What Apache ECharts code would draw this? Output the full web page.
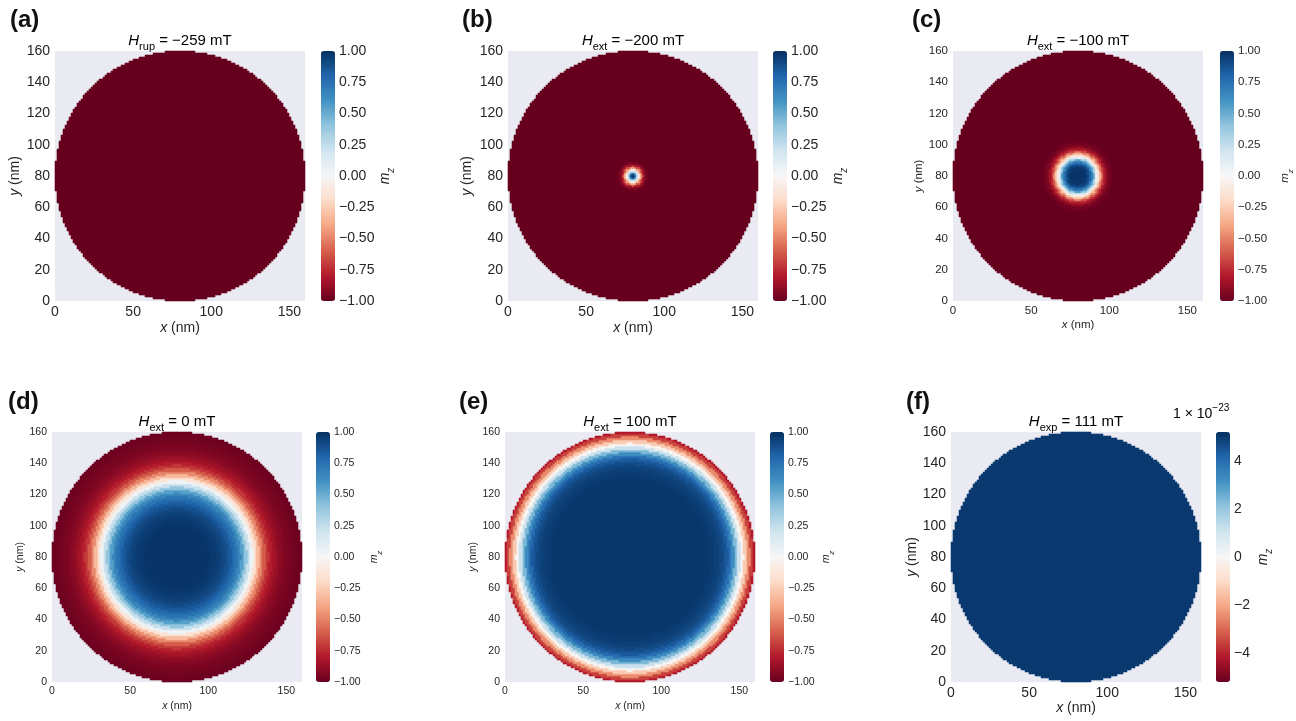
<!DOCTYPE html>
<html>
<head>
<meta charset="utf-8">
<script src="https://cdn.jsdelivr.net/npm/echarts@6/dist/echarts.min.js"></script>
<style>
  html, body { margin: 0; background: #fff; }
  #chart { width: 1296px; height: 721px; }
</style>
</head>
<body>
<div id="chart"></div>
<script>
// disk of the simulation, in nm
const boxSize = 160;
const diskCenter = [80, 80];
const diskRadius = 80;
const cellCount = 125;           // cells per side (1.28 nm each)

// radial mz profiles (index * step = r in nm)
const levelA = -1;
const stepB = 1;
const profileB = [0.97, 0.9, 0.65, 0.3, -0.05, -0.4, -0.65, -0.82, -0.92, -0.97, -1];
const stepC = 1;
const profileC = [0.98, 0.98, 0.98, 0.98, 0.98, 0.97, 0.95, 0.9, 0.82, 0.7, 0.55, 0.35,
  0.12, -0.1, -0.3, -0.5, -0.65, -0.77, -0.86, -0.92, -0.95, -0.97, -0.98, -1];
const stepD = 2;
const profileD = [0.98, 0.98, 0.98, 0.98, 0.98, 0.98, 0.98, 0.98, 0.98, 0.98, 0.98, 0.97,
  0.96, 0.95, 0.93, 0.91, 0.88, 0.84, 0.79, 0.74, 0.66, 0.55, 0.4, 0.23, 0.05, -0.14, -0.32,
  -0.48, -0.61, -0.71, -0.78, -0.83, -0.87, -0.9, -0.92, -0.94, -0.95, -0.96, -0.97, -0.98, -0.98];
const stepE = 2;
const profileE = [0.97, 0.97, 0.97, 0.97, 0.97, 0.97, 0.97, 0.97, 0.97, 0.97, 0.97, 0.97,
  0.97, 0.97, 0.97, 0.97, 0.97, 0.97, 0.97, 0.97, 0.97, 0.97, 0.97, 0.97, 0.97, 0.97, 0.96,
  0.95, 0.94, 0.92, 0.89, 0.84, 0.76, 0.63, 0.45, 0.22, -0.02, -0.26, -0.47, -0.68, -0.8];
const levelF = 5.0;              // x 1e-23

const tags = ['(a)', '(b)', '(c)', '(d)', '(e)', '(f)'];
const titles = [
  '{i|H}{s|rup}{n| = −259 mT}',
  '{i|H}{s|ext}{n| = −200 mT}',
  '{i|H}{s|ext}{n| = −100 mT}',
  '{i|H}{s|ext}{n| = 0 mT}',
  '{i|H}{s|ext}{n| = 100 mT}',
  '{i|H}{s|exp}{n| = 111 mT}'
];
const xTickStep = 50, yTickStep = 20;
const cbRange = [1, 1, 1, 1, 1, 5.2];
const cbTickStep = [0.25, 0.25, 0.25, 0.25, 0.25, 2];
const offsetText = '{n|1 × 10}{p|−23}';

const rdbu = ['#67001f', '#b2182b', '#d6604d', '#f4a582', '#fddbc7', '#f7f7f7',
  '#d1e5f0', '#92c5de', '#4393c3', '#2166ac', '#053061'];

// layout of the six panels
const layout = [
  {left: 55,  top: 51,  cb: 321,  fs: 14,   yGap: 29, xGap: 16, mGap: 39, tag: [10, 8]},
  {left: 508, top: 51,  cb: 773,  fs: 14,   yGap: 30, xGap: 16, mGap: 40, tag: [462, 8]},
  {left: 953, top: 51,  cb: 1220, fs: 11.5, yGap: 22, xGap: 14, mGap: 41, tag: [912, 8]},
  {left: 52,  top: 432, cb: 316,  fs: 10.5, yGap: 22, xGap: 15, mGap: 35, tag: [8, 390]},
  {left: 505, top: 432, cb: 770,  fs: 10.5, yGap: 22, xGap: 15, mGap: 33, tag: [459, 390]},
  {left: 951, top: 432, cb: 1216, fs: 14,   yGap: 25, xGap: 14, mGap: 22, tag: [906, 390]}
];
const titleSize = 15;
const plotSize = 250, cbWidth = 14;
const font = '"Liberation Sans", Arial, sans-serif';
const textColor = '#262626';

function fromProfile(profile, step) {
  return function(r) {
    let idx = Math.min(Math.round(r / step), profile.length - 1);
    return profile[idx];
  };
}

const valueAt = [
  function() { return levelA; },
  fromProfile(profileB, stepB),
  fromProfile(profileC, stepC),
  fromProfile(profileD, stepD),
  fromProfile(profileE, stepE),
  function() { return levelF; }
];

function diskCells(fn) {
  let out = [],
      cell = boxSize / cellCount;
  for (let i = 0; i < cellCount; i++) {
    for (let j = 0; j < cellCount; j++) {
      let dx = (i + 0.5) * cell - diskCenter[0],
          dy = (j + 0.5) * cell - diskCenter[1];
      let r = Math.sqrt(dx * dx + dy * dy);
      if (r <= diskRadius) out.push([i, j, fn(r)]);
    }
  }
  return out;
}

function richStyles(fs) {
  let sub = Math.round(fs * 0.72);
  return {
    i: {fontStyle: 'italic', fontSize: fs, fontFamily: font, color: textColor, lineHeight: fs + 8},
    n: {fontSize: fs, fontFamily: font, color: textColor, lineHeight: fs + 8},
    s: {fontSize: sub, fontFamily: font, color: textColor, lineHeight: sub, verticalAlign: 'bottom'},
    si: {fontSize: sub, fontStyle: 'italic', fontFamily: font, color: textColor, lineHeight: sub, verticalAlign: 'bottom'},
    p: {fontSize: sub, fontFamily: font, color: textColor, lineHeight: sub, verticalAlign: 'top'}
  };
}

function cbLabel(k) {
  return function(v) {
    let s = k === 5 ? String(Math.abs(v)) : Math.abs(v).toFixed(2);
    return v < 0 ? '−' + s : s;
  };
}

let cats = [];
for (let i = 0; i < cellCount; i++) cats.push(i);

let grid = [], xAxis = [], yAxis = [], series = [], visualMap = [], graphic = [];

layout.forEach(function(p, k) {
  let noLine = {show: false, onZero: false};
  grid.push({left: p.left, top: p.top, width: plotSize, height: plotSize, show: true,
    backgroundColor: '#eaeaf2', borderWidth: 0, outerBoundsMode: 'none'});
  grid.push({left: p.cb, top: p.top, width: cbWidth, height: plotSize, outerBoundsMode: 'none'});

  xAxis.push({gridIndex: 2 * k, type: 'category', data: cats, show: false});
  xAxis.push({
    gridIndex: 2 * k, type: 'value', min: 0, max: boxSize, interval: xTickStep, position: 'bottom',
    axisLine: noLine, axisTick: {show: false}, splitLine: {show: false},
    axisLabel: {fontSize: p.fs, fontFamily: font, color: textColor, margin: 4, showMaxLabel: false},
    name: '{i|x}{n| (nm)}', nameLocation: 'middle', nameGap: p.xGap,
    nameTextStyle: {rich: richStyles(p.fs)}
  });
  xAxis.push({gridIndex: 2 * k + 1, type: 'value', min: 0, max: 1, show: false});

  yAxis.push({gridIndex: 2 * k, type: 'category', data: cats, show: false});
  yAxis.push({
    gridIndex: 2 * k, type: 'value', min: 0, max: boxSize, interval: yTickStep, position: 'left',
    axisLine: noLine, axisTick: {show: false}, splitLine: {show: false},
    axisLabel: {fontSize: p.fs, fontFamily: font, color: textColor, margin: 5},
    name: '{i|y}{n| (nm)}', nameLocation: 'middle', nameGap: p.yGap, nameRotate: 90,
    nameTextStyle: {rich: richStyles(p.fs)}
  });
  yAxis.push({
    gridIndex: 2 * k + 1, type: 'value', min: -cbRange[k], max: cbRange[k],
    interval: k === 5 ? undefined : cbTickStep[k], position: 'right',
    axisLine: noLine, axisTick: {show: false}, splitLine: {show: false},
    axisLabel: {fontSize: p.fs, fontFamily: font, color: textColor, margin: 4,
      formatter: cbLabel(k), showMinLabel: k !== 5, showMaxLabel: k !== 5},
    name: '{i|m}{si|z}', nameLocation: 'middle', nameGap: p.mGap, nameRotate: 90,
    nameTextStyle: {rich: richStyles(p.fs)}
  });

  series.push({
    type: 'heatmap', xAxisIndex: 3 * k, yAxisIndex: 3 * k,
    data: diskCells(valueAt[k]), progressive: 0, silent: true,
    emphasis: {disabled: true}
  });

  visualMap.push({
    type: 'continuous', seriesIndex: k, min: -cbRange[k], max: cbRange[k],
    left: p.cb, top: p.top, itemWidth: cbWidth, itemHeight: plotSize, padding: 0,
    calculable: false, hoverLink: false, inRange: {color: rdbu}
  });

  graphic.push({
    type: 'text', x: p.tag[0], y: p.tag[1], silent: true,
    style: {text: tags[k], fontSize: 24, fontWeight: 'bold', fontFamily: font, fill: '#111'}
  });
  graphic.push({
    type: 'text', x: p.left + plotSize / 2, y: p.top - 10, silent: true,
    style: {text: titles[k], align: 'center', verticalAlign: 'middle', rich: richStyles(titleSize)}
  });
});

graphic.push({
  type: 'text', x: 1173, y: 414, silent: true,
  style: {text: offsetText, align: 'left', verticalAlign: 'middle', rich: richStyles(14)}
});

let chart = echarts.init(document.getElementById('chart'), null, {renderer: 'canvas'});
chart.setOption({
  animation: false,
  backgroundColor: '#fff',
  grid: grid,
  xAxis: xAxis,
  yAxis: yAxis,
  visualMap: visualMap,
  series: series,
  graphic: graphic
});
</script>
</body>
</html>
